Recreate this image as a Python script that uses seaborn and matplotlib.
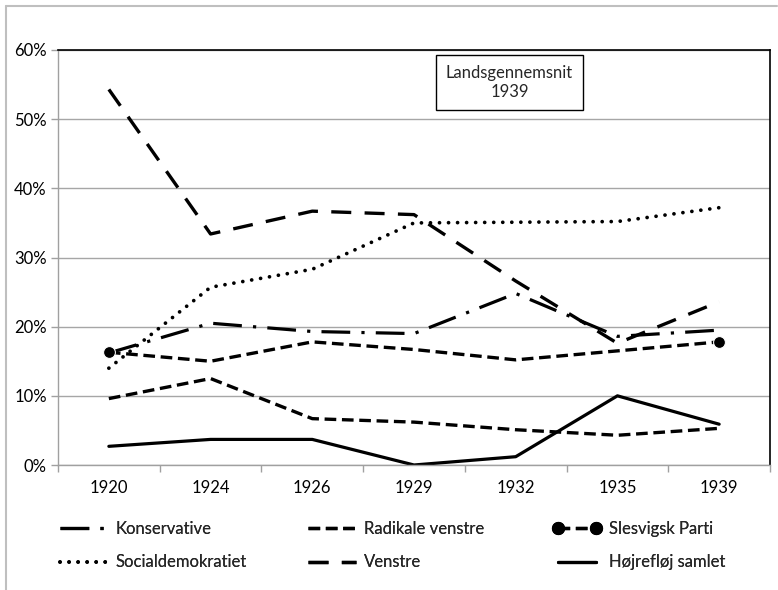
import matplotlib
matplotlib.use("Agg")
import matplotlib.pyplot as plt
from matplotlib.lines import Line2D
from matplotlib.patches import Rectangle
from matplotlib.ticker import FuncFormatter, FixedLocator
import seaborn as sns

# ─── Data (vote share, %) ─────────────────────────────────────────────────────
years = ["1920", "1924", "1926", "1929", "1932", "1935", "1939"]
konservative = [16.2, 20.5, 19.3, 19.0, 24.8, 18.6, 19.5]
radikale = [9.6, 12.5, 6.7, 6.2, 5.1, 4.3, 5.3]
slesvigsk = [16.3, 15.0, 17.8, 16.7, 15.2, 16.5, 17.8]
socialdem = [14.0, 25.7, 28.3, 35.0, 35.1, 35.2, 37.2]
venstre = [54.3, 33.4, 36.7, 36.2, 26.6, 17.6, 23.6]
hojre = [2.7, 3.7, 3.7, 0.0, 1.2, 10.0, 5.9]

names = ["Konservative", "Radikale venstre", "Slesvigsk Parti",
         "Socialdemokratiet", "Venstre", "Højrefløj samlet"]
series = [konservative, radikale, slesvigsk, socialdem, venstre, hojre]

# ─── Line styles ──────────────────────────────────────────────────────────────
styles = {
    "Konservative":      dict(ls=(0, (9, 3.5, 1, 3.5)), lw=2.3),
    "Radikale venstre":  dict(ls=(0, (3.5, 1.7)), lw=2.4),
    "Slesvigsk Parti":   dict(ls=(0, (3.5, 1.7)), lw=2.4, marker="o",
                              ms=8.5, markevery=[0, len(years) - 1]),
    "Socialdemokratiet": dict(ls=(0, (0.01, 2.4)), lw=2.7,
                              dash_capstyle="round"),
    "Venstre":           dict(ls=(0, (6, 4)), lw=2.4),
    "Højrefløj samlet":  dict(ls="-", lw=2.3),
}

FS = 12

sns.set_theme(style="white")
plt.rcParams["font.family"] = ["Lato", "DejaVu Sans"]

W, H = 778, 590
fig = plt.figure(figsize=(W / 100, H / 100), dpi=100)
ax = fig.add_axes([58 / W, (H - 465) / H, (770 - 58) / W, (465 - 50) / H])

xpos = list(range(len(years)))
for name, vals in zip(names, series):
    sns.lineplot(x=xpos, y=vals, ax=ax, color="black", errorbar=None,
                 sort=False, **styles[name])

# ─── Axes ─────────────────────────────────────────────────────────────────────
ax.set_xlim(-0.5, len(years) - 0.5)
ax.set_ylim(0, 60)
ax.set_yticks(range(0, 61, 10))
ax.yaxis.set_major_formatter(FuncFormatter(lambda v, _: f"{v:.0f}%"))
ax.set_xticks(xpos)
ax.set_xticklabels(years)
ax.xaxis.set_minor_locator(FixedLocator([i - 0.5 for i in range(len(years) + 1)]))
ax.tick_params(axis="x", which="major", length=0, pad=11, labelsize=FS,
               colors="black")
ax.tick_params(axis="x", which="minor", length=5, width=1, color="#a0a0a0",
               direction="out", bottom=True)
ax.tick_params(axis="y", length=5, width=1, color="#a0a0a0", direction="out",
               left=True, pad=3, labelsize=FS, labelcolor="black")
ax.grid(axis="y", color="#a6a6a6", lw=1)
ax.set_axisbelow(True)
for side in ["left", "bottom"]:
    ax.spines[side].set_color("#a0a0a0")
    ax.spines[side].set_linewidth(1)
for side in ["top", "right"]:
    ax.spines[side].set_color("black")
    ax.spines[side].set_linewidth(1.2)
ax.set_xlabel("")
ax.set_ylabel("")

# ─── Annotation box ───────────────────────────────────────────────────────────
fig.patches.append(Rectangle((436 / W, (H - 110) / H), 147 / W, 55 / H,
                             transform=fig.transFigure, fill=True,
                             facecolor="white", edgecolor="black", lw=1,
                             zorder=5))
fig.text(509.5 / W, (H - 82.5) / H, "Landsgennemsnit\n1939", ha="center",
         va="center", fontsize=FS, linespacing=1.3, zorder=6)

# ─── Chart border (gray) ──────────────────────────────────────────────────────
fig.add_artist(Line2D([6 / W, 6 / W], [0, (H - 6) / H], color="#bfbfbf",
                      lw=1.5, transform=fig.transFigure))
fig.add_artist(Line2D([6 / W, 777 / W], [(H - 6) / H, (H - 6) / H],
                      color="#bfbfbf", lw=1.5, transform=fig.transFigure))

# ─── Legend: three columns, two rows ──────────────────────────────────────────
def proxy(name):
    st = dict(styles[name])
    st.pop("markevery", None)
    return Line2D([], [], color="black", **st)

columns = [(names[0], names[3]), (names[1], names[4]), (names[2], names[5])]
col_x = [60, 308, 553]
col_np = [1, 1, 2]   # markers at both handle ends only for Slesvigsk column
for cx, npts, col in zip(col_x, col_np, columns):
    leg = fig.legend([proxy(n) for n in col], list(col), loc="upper left",
                     bbox_to_anchor=(cx / W, (H - 521) / H), frameon=False,
                     fontsize=FS, handlelength=2.9, handletextpad=0.45,
                     labelspacing=1.04, numpoints=npts, borderpad=0,
                     borderaxespad=0)
    fig.add_artist(leg)

fig.savefig("out.png", dpi=100, facecolor="white")
